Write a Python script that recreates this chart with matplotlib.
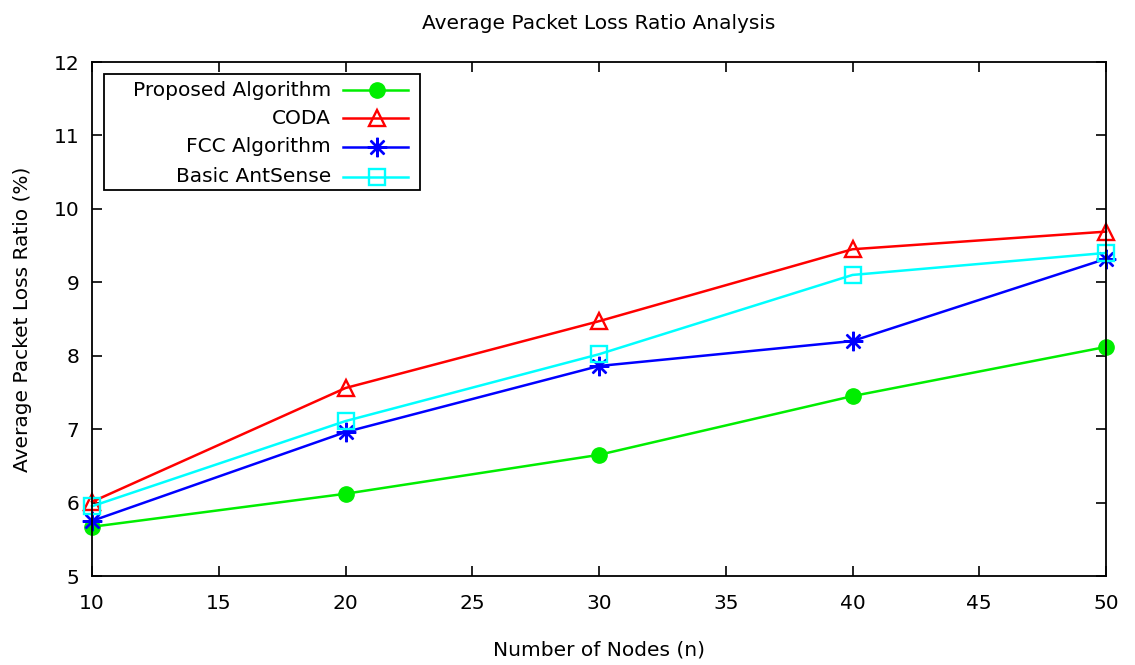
import matplotlib
matplotlib.use("Agg")
import matplotlib.pyplot as plt
from matplotlib.lines import Line2D
from matplotlib.patches import Rectangle

# Data
nodes = [10, 20, 30, 40, 50]
proposed = [5.67, 6.12, 6.65, 7.45, 8.12]
coda = [6.01, 7.56, 8.47, 9.45, 9.69]
fcc = [5.75, 6.96, 7.86, 8.20, 9.32]
antsense = [5.95, 7.11, 8.02, 9.10, 9.40]

series_names = ["Proposed Algorithm", "CODA", "FCC Algorithm", "Basic AntSense"]
x_ticks = [10, 15, 20, 25, 30, 35, 40, 45, 50]
y_ticks = [5, 6, 7, 8, 9, 10, 11, 12]

plt.rcParams["font.family"] = ["DejaVu Sans"]
FS = 14.5

fig = plt.figure(figsize=(11.35, 6.65), dpi=100)
ax = fig.add_axes([92 / 1135, 89 / 665, 1014 / 1135, 514 / 665])

styles = [
    dict(color="#00ee00", marker="o", markersize=11, markerfacecolor="#00ee00",
         markeredgecolor="#00ee00", markeredgewidth=1.0),
    dict(color="#ff0000", marker="^", markersize=11, markerfacecolor="none",
         markeredgecolor="#ff0000", markeredgewidth=1.7),
    dict(color="#0000ff", marker=(8, 2, 0), markersize=14, markeredgecolor="#0000ff",
         markeredgewidth=1.7),
    dict(color="#00ffff", marker="s", markersize=11, markerfacecolor="none",
         markeredgecolor="#00ffff", markeredgewidth=1.7),
]
values = [proposed, coda, fcc, antsense]

for vals, st in zip(values, styles):
    ax.plot(nodes, vals, linewidth=1.8, clip_on=False, **st)

ax.set_xlim(10, 50)
ax.set_ylim(5, 12)
ax.set_xticks(x_ticks)
ax.set_yticks(y_ticks)
ax.tick_params(direction="in", length=7, width=1.2, top=True, right=True,
               labelsize=FS, colors="black")
ax.tick_params(axis="x", pad=13)
ax.tick_params(axis="y", pad=9)
for sp in ax.spines.values():
    sp.set_linewidth(1.3)

ax.set_title("Average Packet Loss Ratio Analysis", fontsize=FS, pad=24)
ax.set_xlabel("Number of Nodes (n)", fontsize=FS, labelpad=20)
ax.set_ylabel("Average Packet Loss Ratio (%)", fontsize=FS, labelpad=16)

# Legend box (gnuplot style: labels right-aligned, samples on the right)
def fx(px):
    return (px - 92) / 1014


def fy(py):
    return (576 - py) / 514


ax.add_patch(Rectangle((fx(104), fy(190)), fx(420) - fx(104), fy(74) - fy(190),
                       transform=ax.transAxes, fill=True, facecolor="white",
                       edgecolor="black", linewidth=1.3, zorder=5))
rows_py = [90, 118, 147, 177]
for name, st, py in zip(series_names, styles, rows_py):
    ax.text(fx(331), fy(py), name, transform=ax.transAxes, ha="right",
            va="center", fontsize=FS, zorder=6)
    ax.add_line(Line2D([fx(343), fx(408)], [fy(py), fy(py)], transform=ax.transAxes,
                       color=st["color"], linewidth=1.8, zorder=6))
    mk = {k: v for k, v in st.items() if k != "color"}
    ax.add_line(Line2D([fx(377)], [fy(py)], transform=ax.transAxes,
                       linestyle="none", zorder=7, **mk))

fig.savefig("out.png", dpi=100)
